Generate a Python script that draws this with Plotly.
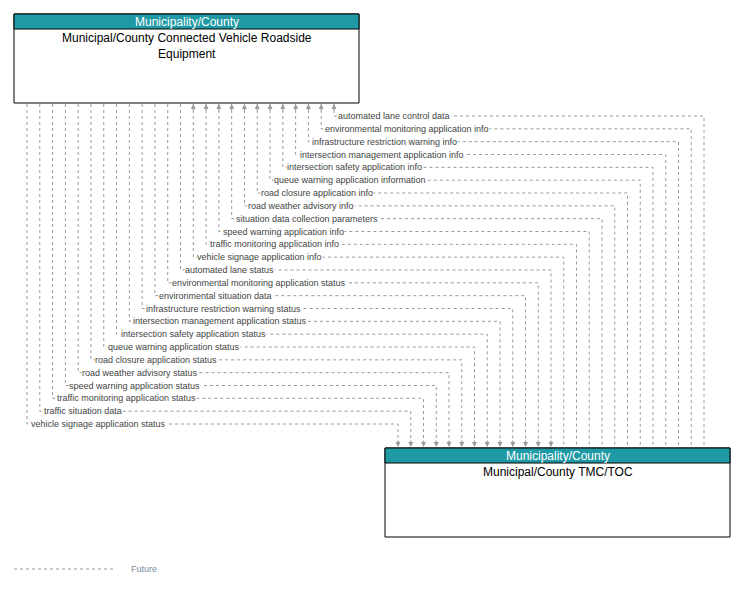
import plotly.graph_objects as go

W, H = 741, 589
OFF = 8  # page body margin in the browser
TEAL = "#1f9aa5"
LINE = "#9a9a9a"

# flows listed bottom label first
up_flows = [
    "vehicle signage application info",
    "traffic monitoring application info",
    "speed warning application info",
    "situation data collection parameters",
    "road weather advisory info",
    "road closure application info",
    "queue warning application information",
    "intersection safety application info",
    "intersection management application info",
    "infrastructure restriction warning info",
    "environmental monitoring application info",
    "automated lane control data",
]
down_flows = [
    "vehicle signage application status",
    "traffic situation data",
    "traffic monitoring application status",
    "speed warning application status",
    "road weather advisory status",
    "road closure application status",
    "queue warning application status",
    "intersection safety application status",
    "intersection management application status",
    "infrastructure restriction warning status",
    "environmental situation data",
    "environmental monitoring application status",
    "automated lane status",
]
flows = [(n, "down") for n in down_flows] + [(n, "up") for n in up_flows]

top_box = dict(x0=14, x1=359, y0=14, y1=103, org="Municipality/County",
               name="Municipal/County Connected Vehicle Roadside<br>Equipment")
bot_box = dict(x0=385, x1=730, y0=448, y1=537, org="Municipality/County",
               name="Municipal/County TMC/TOC")

fig = go.Figure()

for b in (top_box, bot_box):
    fig.add_shape(type="rect", x0=b["x0"], x1=b["x1"], y0=b["y0"], y1=b["y1"],
                  line=dict(color="black", width=1), fillcolor="white")
    fig.add_shape(type="rect", x0=b["x0"], x1=b["x1"], y0=b["y0"], y1=b["y0"] + 15,
                  line=dict(color="black", width=1), fillcolor=TEAL)
    cx = (b["x0"] + b["x1"]) / 2
    fig.add_annotation(x=cx, y=b["y0"] + 7.5, text=b["org"], showarrow=False,
                       font=dict(color="white", size=12, family="Arial"))
    fig.add_annotation(x=cx, y=b["y0"] + 15, text=b["name"], showarrow=False, yanchor="top",
                       font=dict(color="black", size=12, family="Arial"))

n = len(flows)
for i, (name, d) in enumerate(flows):
    tx = 27 + (334 - 27) / (n - 1) * i
    bx = 398 + (704 - 398) / (n - 1) * i
    y = 424 - (424 - 116) / (n - 1) * i
    fig.add_shape(type="path", path=f"M {tx},104 L {tx},{y} L {bx},{y} L {bx},447",
                  line=dict(color=LINE, width=1, dash="dot"))
    if d == "up":
        fig.add_annotation(x=tx, y=104, ax=tx, ay=112, axref="x", ayref="y", text="",
                           showarrow=True, arrowhead=2, arrowsize=1, arrowwidth=1, arrowcolor=LINE)
    else:
        fig.add_annotation(x=bx, y=447, ax=bx, ay=439, axref="x", ayref="y", text="",
                           showarrow=True, arrowhead=2, arrowsize=1, arrowwidth=1, arrowcolor=LINE)
    fig.add_annotation(x=tx + 3, y=y, text=name, showarrow=False, xanchor="left",
                       bgcolor="white", borderpad=0,
                       font=dict(size=9, color="#444", family="Arial"))

fig.add_shape(type="line", x0=14, x1=114, y0=569, y1=569, line=dict(color=LINE, width=1, dash="dot"))
fig.add_annotation(x=129, y=569, text="Future", showarrow=False, xanchor="left",
                   font=dict(size=9, color="#7a8aa0", family="Arial"))

fig.update_xaxes(range=[OFF, W + OFF], visible=False, fixedrange=True)
fig.update_yaxes(range=[H + OFF, OFF], visible=False, fixedrange=True)
fig.update_layout(width=W, height=H, margin=dict(l=0, r=0, t=0, b=0),
                  plot_bgcolor="white", paper_bgcolor="white", showlegend=False)
fig.write_html("out.html")
